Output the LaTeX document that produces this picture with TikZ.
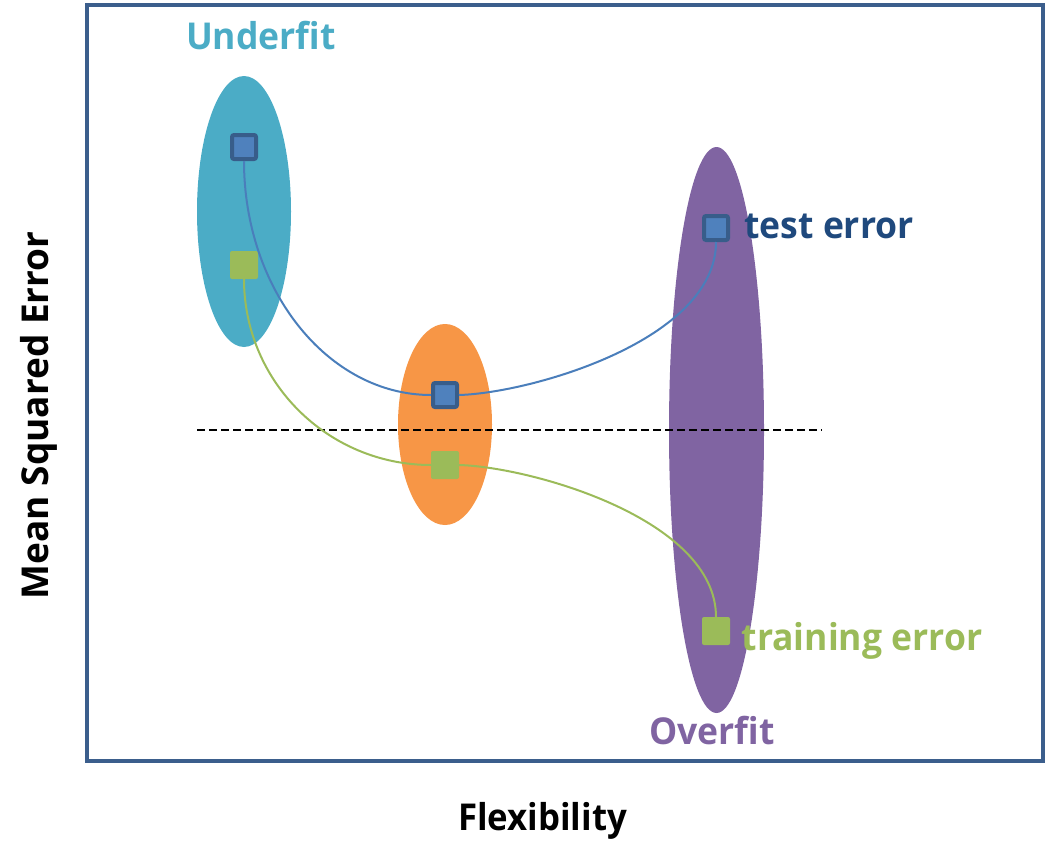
\documentclass[tikz,border=0pt]{standalone}
\usepackage{fontspec}
\setmainfont{Open Sans}
\definecolor{frameblue}{HTML}{3B5E8C}
\definecolor{underc}{HTML}{4BACC6}
\definecolor{midc}{HTML}{F79646}
\definecolor{overc}{HTML}{8064A2}
\definecolor{testfill}{HTML}{4F81BD}
\definecolor{testdraw}{HTML}{385D8A}
\definecolor{testline}{HTML}{4A7EBB}
\definecolor{trainc}{HTML}{9BBB59}
\definecolor{testtext}{HTML}{1F497D}
\tikzset{
  testbox/.style={draw=testdraw, line width=4pt, fill=testfill, minimum size=24pt, inner sep=0pt, rounded corners=2pt},
  trainbox/.style={fill=trainc, minimum size=28pt, inner sep=0pt, outer sep=0pt, rounded corners=2pt},
  testcurve/.style={draw=testline, line width=2pt},
  traincurve/.style={draw=trainc, line width=2pt},
  lbl/.style={font=\fontsize{37}{40}\selectfont\bfseries, inner sep=0pt, anchor=base},
}
\newcommand{\sqz}[1]{\scalebox{0.96}[1]{#1}}
\begin{document}
\begin{tikzpicture}[x=1pt,y=-1pt]
\useasboundingbox (0,0) rectangle (1046,859);
% frame
\draw[frameblue, line width=4pt] (87,5) rectangle (1043,761);
% ellipses
\fill[underc] (244,211.5) ellipse [x radius=47, y radius=135.5];
\fill[midc] (445,424.5) ellipse [x radius=47, y radius=100.5];
\fill[overc] (716.5,430) ellipse [x radius=47.5, y radius=283];
% dashed line
\coordinate (dl) at (197,430);
\coordinate (dr) at (822,430);
\draw[black, line width=2pt, dash pattern=on 8pt off 4pt] (dl) -- (dr);
% markers
\node[testbox] (tl) at (244,147) {};
\node[testbox] (tm) at (445,395) {};
\node[testbox] (tr) at (716,228) {};
\node[trainbox] (gl) at (244,265) {};
\node[trainbox] (gm) at (445,465) {};
\node[trainbox] (gr) at (716,631) {};
% curves
\draw[testcurve] (tl.south) .. controls +(0,129) and +(-103,0) .. (tm.west);
\draw[testcurve] (tm.east) .. controls +(72,-2) and +(0,98) .. (tr.south);
\draw[traincurve] (gl.south) .. controls +(0,103) and +(-103,0) .. (gm.west);
\draw[traincurve] (gm.east) .. controls +(72,2) and +(0,-98) .. (gr.north);
% labels
\node[lbl, text=underc] (under) at (261,50) {\sqz{Underfit}};
\node[lbl, text=testtext] (testlbl) at (829,238) {\sqz{test error}};
\node[lbl, text=trainc] (trainlbl) at (862,650) {\sqz{training error}};
\node[lbl, text=overc] (over) at (712,744) {\sqz{Overfit}};
\node[lbl] (xlab) at (542.5,830) {\scalebox{0.94}[1]{Flexibility}};
\node[lbl, rotate=90] (ylab) at (48,415.5) {Mean Squared Error};
\end{tikzpicture}
\end{document}
